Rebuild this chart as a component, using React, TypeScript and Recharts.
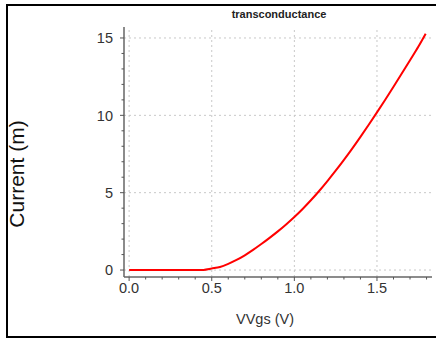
import { LineChart, Line, XAxis, YAxis, ReferenceLine } from "recharts";

// Vgs sweep (V) and drain current (mA)
const vgs = [
  0, 0.05, 0.1, 0.15, 0.2, 0.25, 0.3, 0.35, 0.4, 0.45, 0.5, 0.55, 0.6, 0.65, 0.7, 0.75, 0.8, 0.85,
  0.9, 0.95, 1.0, 1.05, 1.1, 1.15, 1.2, 1.25, 1.3, 1.35, 1.4, 1.45, 1.5, 1.55, 1.6, 1.65, 1.7, 1.75,
  1.795,
];
const current = [
  0, 0, 0, 0, 0, 0, 0, 0, 0, 0.01, 0.1, 0.2, 0.4, 0.65, 0.95, 1.3, 1.68, 2.08, 2.5, 2.95, 3.43, 3.95,
  4.51, 5.11, 5.75, 6.42, 7.12, 7.85, 8.61, 9.39, 10.19, 11.01, 11.85, 12.7, 13.56, 14.43, 15.28,
];

const xTicks = [0, 0.1, 0.2, 0.3, 0.4, 0.5, 0.6, 0.7, 0.8, 0.9, 1.0, 1.1, 1.2, 1.3, 1.4, 1.5, 1.6, 1.7, 1.8];
const yTicks = [0, 1, 2, 3, 4, 5, 6, 7, 8, 9, 10, 11, 12, 13, 14, 15];
const xGrid = [0, 0.5, 1.0, 1.5];
const yGrid = [0, 5, 10, 15];

const data = vgs.map((v, i) => ({ vgs: v, current: current[i] }));

const FONT = "'Liberation Sans', Arial, sans-serif";
const X_DOMAIN: [number, number] = [-0.031, 1.833];
const Y_DOMAIN: [number, number] = [-0.45, 15.71];

const isMajor = (v: number, step: number) => Math.abs(v / step - Math.round(v / step)) < 1e-6;

const XTick = ({ x, y, payload }: any) => {
  const v = payload.value;
  const major = isMajor(v, 0.5);
  return (
    <g>
      <line x1={x} x2={x} y1={y} y2={y + (major ? 4 : 2.5)} stroke="#555" />
      {major && (
        <text x={x} y={y + 16} textAnchor="middle" fontSize={14.5} fill="#333" fontFamily={FONT}>
          {v.toFixed(1)}
        </text>
      )}
    </g>
  );
};

const YTick = ({ x, y, payload }: any) => {
  const v = payload.value;
  const major = isMajor(v, 5);
  return (
    <g>
      <line x1={x} x2={x - (major ? 4 : 2.5)} y1={y} y2={y} stroke="#555" />
      {major && (
        <text x={x - 11} y={y} dy="0.36em" textAnchor="end" fontSize={14.5} fill="#333" fontFamily={FONT}>
          {v}
        </text>
      )}
    </g>
  );
};

export default function App() {
  return (
    <div
      style={{
        position: "absolute",
        left: 0,
        top: 0,
        width: 436,
        height: 340,
        background: "#fff",
        overflow: "hidden",
        fontFamily: FONT,
      }}
    >
      {/* outer frame */}
      <div
        style={{
          position: "absolute",
          left: 6,
          top: 4,
          width: 440,
          height: 330,
          border: "2px solid #000",
        }}
      />
      <LineChart
        width={436}
        height={340}
        data={data}
        margin={{ top: 27, right: 4, left: 0, bottom: 0 }}
        style={{ position: "absolute", left: 0, top: 0 }}
      >
        {xGrid.map((g) => (
          <ReferenceLine key={"x" + g} x={g} stroke="#c8c8c8" strokeDasharray="2 3" />
        ))}
        {yGrid.map((g) => (
          <ReferenceLine key={"y" + g} y={g} stroke="#c8c8c8" strokeDasharray="2 3" />
        ))}
        <XAxis
          dataKey="vgs"
          type="number"
          domain={X_DOMAIN}
          allowDataOverflow
          ticks={xTicks}
          interval={0}
          tick={<XTick />}
          tickLine={false}
          tickSize={0}
          tickMargin={0}
          height={63}
          axisLine={{ stroke: "#666", strokeWidth: 1.5 }}
        />
        <XAxis
          xAxisId="top"
          orientation="top"
          dataKey="vgs"
          type="number"
          domain={X_DOMAIN}
          allowDataOverflow
          tick={false}
          tickLine={false}
          height={0}
          axisLine={{ stroke: "#888", strokeWidth: 1.5 }}
        />
        <YAxis
          type="number"
          domain={Y_DOMAIN}
          allowDataOverflow
          ticks={yTicks}
          interval={0}
          tick={<YTick />}
          tickLine={false}
          tickSize={0}
          tickMargin={0}
          width={124}
          axisLine={{ stroke: "#666", strokeWidth: 1.5 }}
        />
        <YAxis
          yAxisId="right"
          orientation="right"
          type="number"
          domain={Y_DOMAIN}
          allowDataOverflow
          tick={false}
          tickLine={false}
          width={0}
          axisLine={{ stroke: "#888", strokeWidth: 1.5 }}
        />
        <Line
          type="monotone"
          dataKey="current"
          stroke="#ff0000"
          strokeWidth={2}
          dot={false}
          isAnimationActive={false}
        />
      </LineChart>
      <div
        style={{
          position: "absolute",
          left: 179,
          width: 200,
          top: 8,
          textAlign: "center",
          fontSize: 11,
          fontWeight: "bold",
          color: "#222",
        }}
      >
        transconductance
      </div>
      <div
        style={{
          position: "absolute",
          left: 165,
          width: 200,
          top: 311,
          textAlign: "center",
          fontSize: 14.5,
          color: "#333",
        }}
      >
        VVgs (V)
      </div>
      <div
        style={{
          position: "absolute",
          left: 17,
          top: 174,
          transform: "translate(-50%, -50%) rotate(-90deg)",
          whiteSpace: "nowrap",
          fontSize: 21,
          color: "#111",
        }}
      >
        Current (m)
      </div>
    </div>
  );
}
